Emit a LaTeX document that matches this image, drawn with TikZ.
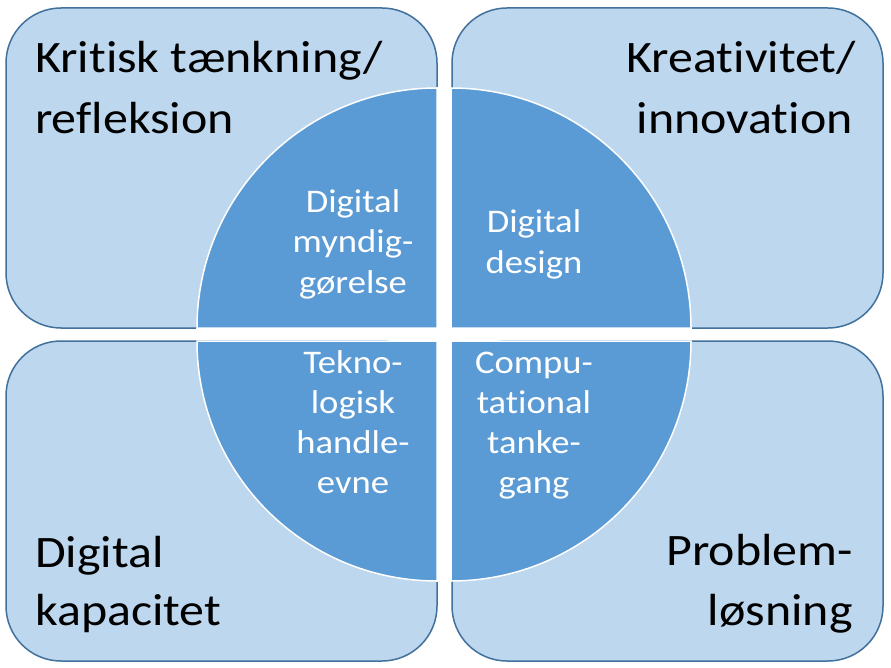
\documentclass[tikz,border=0pt]{standalone}
\usepackage{fontspec}
\setmainfont[Ligatures=NoCommon]{Carlito}
\definecolor{boxfill}{HTML}{BDD7EE}
\definecolor{boxline}{HTML}{41719C}
\definecolor{quadfill}{HTML}{5B9BD5}
\newcommand\widetxt[1]{\scalebox{1.11}[1]{#1}}
\tikzset{
  box/.style={fill=boxfill, draw=boxline, line width=1.5pt, rounded corners=55pt},
  quad/.style={fill=quadfill, draw=white, line width=1.5pt},
  big/.style={inner sep=0pt, font=\fontsize{45}{54}\selectfont, text=black},
  small/.style={inner sep=0pt, font=\fontsize{33}{40}\selectfont, text=white},
}
\begin{document}
\begin{tikzpicture}[x=1pt,y=-1pt]
\useasboundingbox (0,0) rectangle (891,668);
\fill[white] (0,0) rectangle (891,668);
% boxes
\draw[box] (6,8) rectangle (437,328);
\draw[box] (452,8) rectangle (883,328);
\draw[box] (6,341) rectangle (437,661);
\draw[box] (452,341) rectangle (883,661);
% quadrants
\draw[quad] (437,328) -- (437,88) arc[start angle=-90, end angle=-180, radius=240] -- cycle;
\draw[quad] (451,328) -- (451,88) arc[start angle=-90, end angle=0, radius=240] -- cycle;
\draw[quad] (437,341) -- (197,341) arc[start angle=180, end angle=90, radius=240] -- cycle;
\draw[quad] (451,341) -- (691,341) arc[start angle=0, end angle=90, radius=240] -- cycle;
% big labels
\node[big, anchor=base west] (tla) at (35,73) {\widetxt{Kritisk tænkning/}};
\node[big, anchor=base west] (tlb) at (35,134) {\widetxt{refleksion}};
\node[big, anchor=base east] (tra) at (856,73) {\widetxt{Kreativitet/}};
\node[big, anchor=base east] (trb) at (853,134) {\widetxt{innovation}};
\node[big, anchor=base west] (bla) at (35,567) {\widetxt{Digital}};
\node[big, anchor=base west] (blb) at (35,625) {\widetxt{kapacitet}};
\node[big, anchor=base east] (bra) at (853,565) {\widetxt{Problem-}};
\node[big, anchor=base east] (brb) at (853,625) {\widetxt{løsning}};
% small labels
\node[small, anchor=base] (q1a) at (353,213) {\widetxt{Digital}};
\node[small, anchor=base] (q1b) at (353,253) {\widetxt{myndig-}};
\node[small, anchor=base] (q1c) at (353,293) {\widetxt{gørelse}};
\node[small, anchor=base] (q2a) at (534,233) {\widetxt{Digital}};
\node[small, anchor=base] (q2b) at (534,273) {\widetxt{design}};
\node[small, anchor=base] (q3a) at (353,373) {\widetxt{Tekno-}};
\node[small, anchor=base] (q3b) at (353,413) {\widetxt{logisk}};
\node[small, anchor=base] (q3c) at (353,453) {\widetxt{handle-}};
\node[small, anchor=base] (q3d) at (353,493) {\widetxt{evne}};
\node[small, anchor=base] (q4a) at (534,373) {\widetxt{Compu-}};
\node[small, anchor=base] (q4b) at (534,413) {\widetxt{tational}};
\node[small, anchor=base] (q4c) at (534,453) {\widetxt{tanke-}};
\node[small, anchor=base] (q4d) at (534,493) {\widetxt{gang}};
\end{tikzpicture}
\end{document}
